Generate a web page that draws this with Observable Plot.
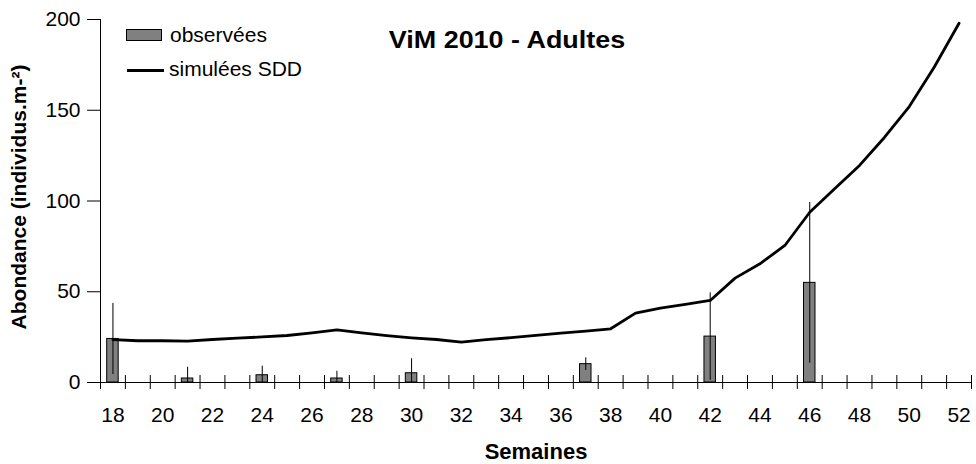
<!DOCTYPE html>
<html><head><meta charset="utf-8">
<script src="https://cdn.jsdelivr.net/npm/d3@7"></script>
<script src="https://cdn.jsdelivr.net/npm/@observablehq/plot@0.6"></script>
<style>
body{margin:0;background:#fff;}
#wrap{position:relative;width:976px;height:464px;font-family:"Liberation Sans",Arial,sans-serif;color:#000;overflow:hidden;}
.ov{position:absolute;white-space:nowrap;line-height:1;}
</style></head><body><div id="wrap"></div>
<script>
// ---- data ----
const weeks = [18,19,20,21,22,23,24,25,26,27,28,29,30,31,32,33,34,35,36,37,38,39,40,41,42,43,44,45,46,47,48,49,50,51,52];
const simValues = [23.6,23,23,22.8,23.7,24.4,25.1,25.9,27.4,29,27.3,25.8,24.6,23.7,22.2,23.6,24.7,26,27.2,28.3,29.6,38.2,41,43,45.2,57.5,65.4,75.5,93.8,106.7,119.6,135,152,173.7,197.9];
const obsWeeks = [18,21,24,27,30,37,42,46];
const obsValues = [24,2.2,4,2.2,5.1,10.1,25.3,54.9];
const obsErrors = [19.6,6.2,5,4,8,3.5,24.1,44.3];
const xTickLabels = [18,20,22,24,26,28,30,32,34,36,38,40,42,44,46,48,50,52];
const yTicks = [0,50,100,150,200];
const seriesNames = ["observées","simulées SDD"];
const chartTitle = "ViM 2010 - Adultes";
const xTitle = "Semaines";
const yTitle = "Abondance (individus.m-²)";

const sim = weeks.map((w,i)=>({week:w, value:simValues[i]}));
const obs = obsWeeks.map((w,i)=>({week:w, value:obsValues[i], err:obsErrors[i]}));
const bounds = d3.range(weeks[0]-0.5, weeks[weeks.length-1]+1, 1);

const chart = Plot.plot({
  width:976, height:464,
  marginLeft:100, marginRight:5, marginTop:19, marginBottom:82,
  style:{fontFamily:"'Liberation Sans', Arial, sans-serif", fontSize:"21px", color:"#000", background:"#fff"},
  x:{domain:[weeks[0]-0.5, weeks[weeks.length-1]+0.5]},
  y:{domain:[0,200]},
  marks:[
    Plot.rectY(obs,{x1:d=>d.week-0.5, x2:d=>d.week+0.5, y:"value", insetLeft:6.7, insetRight:6.7, fill:"#808080", stroke:"#000", strokeWidth:1}),
    Plot.ruleX(obs,{x:"week", y1:d=>Math.max(0,d.value-d.err), y2:d=>d.value+d.err, stroke:"#000", strokeWidth:1}),
    Plot.line(sim,{x:"week", y:"value", stroke:"#000", strokeWidth:2.8}),
    Plot.ruleY([0],{stroke:"#000"}),
    Plot.ruleX([weeks[0]-0.5],{stroke:"#000"}),
    Plot.ruleX(bounds,{x:d=>d, y1:0, y2:0, insetTop:7, insetBottom:7, stroke:"#000"}),
    Plot.axisY({ticks:yTicks, tickSize:13, tickPadding:7, label:null}),
    Plot.axisX({ticks:xTickLabels, tickSize:0, tickPadding:25, label:null})
  ]
});
const wrap = document.getElementById("wrap");
wrap.appendChild(chart);

function ov(text, css){
  const d = document.createElement("div");
  d.className = "ov";
  d.textContent = text;
  Object.assign(d.style, css);
  wrap.appendChild(d);
  return d;
}
// title
ov(chartTitle,{left:"507px", top:"29px", fontSize:"23px", fontWeight:"bold", transform:"translateX(-50%) scaleX(1.17)"});
// axis titles
ov(xTitle,{left:"536px", top:"441px", fontSize:"22px", fontWeight:"bold", transform:"translateX(-50%)"});
ov(yTitle,{left:"18px", top:"197px", fontSize:"21px", fontWeight:"bold", transform:"translate(-50%,-50%) rotate(-90deg)"});
// legend
const sw = document.createElement("div");
Object.assign(sw.style,{position:"absolute", left:"126px", top:"29px", width:"36px", height:"12px", background:"#808080", border:"1px solid #000", boxSizing:"border-box"});
wrap.appendChild(sw);
ov(seriesNames[0],{left:"170px", top:"24px", fontSize:"21px"});
const ln = document.createElement("div");
Object.assign(ln.style,{position:"absolute", left:"127px", top:"69px", width:"37px", height:"3px", background:"#000"});
wrap.appendChild(ln);
ov(seriesNames[1],{left:"169px", top:"58px", fontSize:"21px"});
</script>
</body></html>
